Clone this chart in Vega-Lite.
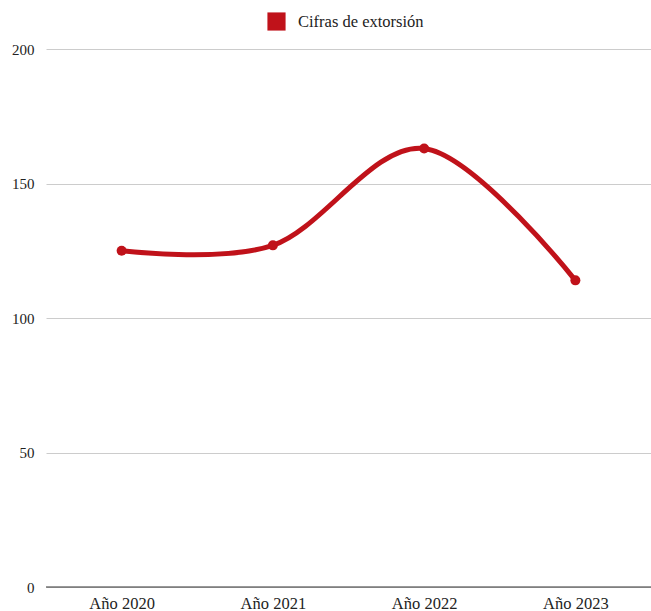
{
  "$schema": "https://vega.github.io/schema/vega-lite/v6.json",
  "width": 605,
  "height": 538,
  "autosize": "none",
  "padding": {"left": 46, "top": 49, "right": 0, "bottom": 24},
  "background": "white",
  "config": {
    "font": "Liberation Serif",
    "view": {"stroke": null}
  },
  "data": {
    "values": [
      {"anio": "Año 2020", "valor": 125, "serie": "Cifras de extorsión"},
      {"anio": "Año 2021", "valor": 127, "serie": "Cifras de extorsión"},
      {"anio": "Año 2022", "valor": 163, "serie": "Cifras de extorsión"},
      {"anio": "Año 2023", "valor": 114, "serie": "Cifras de extorsión"}
    ]
  },
  "encoding": {
    "x": {
      "field": "anio", "type": "ordinal", "title": null,
      "scale": {"type": "point", "padding": 0.5},
      "axis": {"labelAngle": 0, "ticks": false, "domain": false, "labelFontSize": 16.5, "labelColor": "#222", "labelPadding": 8}
    },
    "y": {
      "field": "valor", "type": "quantitative", "title": null,
      "scale": {"domain": [0, 200]},
      "axis": {"values": [0, 50, 100, 150, 200], "ticks": false, "domain": false, "labelFontSize": 15, "labelColor": "#222", "labelPadding": 12, "gridColor": "#cccccc", "labelBaseline": "middle"}
    },
    "color": {
      "field": "serie", "type": "nominal",
      "scale": {"range": ["#c0121a"]},
      "legend": {"orient": "none", "legendX": 221, "legendY": -37, "title": null, "symbolType": "square", "symbolSize": 330, "symbolStrokeWidth": 0, "labelFontSize": 16.5, "labelColor": "#222", "labelOffset": 12, "symbolOpacity": 1}
    }
  },
  "layer": [
    {
      "mark": {"type": "rule", "color": "#333", "strokeWidth": 1},
      "data": {"values": [{"z": 0}]},
      "encoding": {"y": {"field": "z", "type": "quantitative"}, "x": null, "color": null}
    },
    {"mark": {"type": "line", "interpolate": "cardinal", "strokeWidth": 5}},
    {"mark": {"type": "point", "filled": true, "size": 100, "opacity": 1}}
  ]
}
